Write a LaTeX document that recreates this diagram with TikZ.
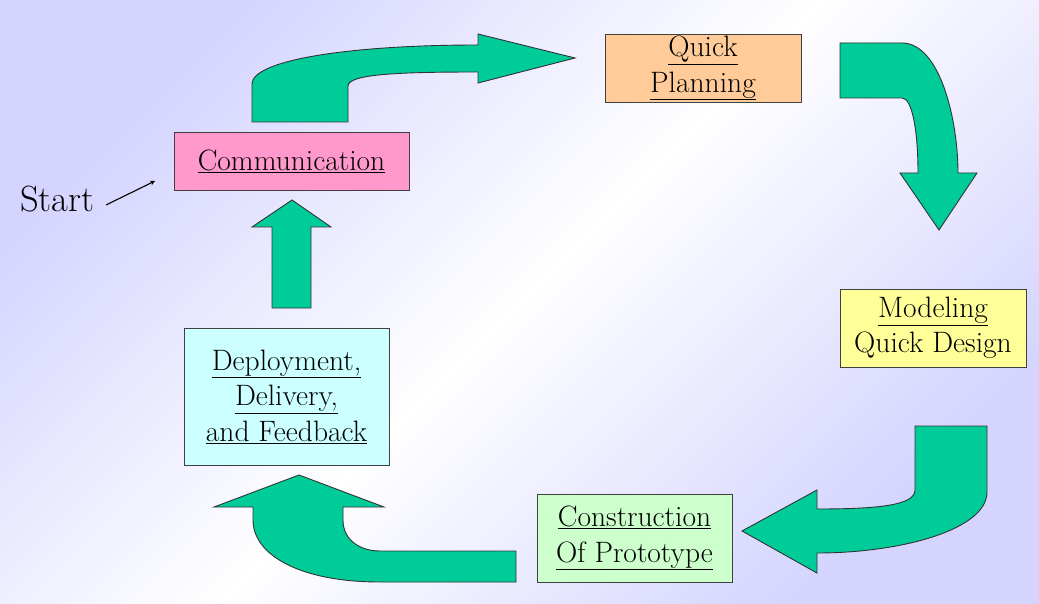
\documentclass[tikz,border=0pt]{standalone}
\usetikzlibrary{shapes,arrows,positioning}
\definecolor{lavanda}{RGB}{212,212,255}
\definecolor{verde}{RGB}{0,204,153}
\definecolor{rosa}{RGB}{255,153,204}
\definecolor{durazno}{RGB}{255,204,153}
\definecolor{amarillo}{RGB}{255,255,153}
\definecolor{menta}{RGB}{204,255,204}
\definecolor{celeste}{RGB}{204,255,255}
\tikzstyle{etapa} = [draw=black!75, line width=0.9pt, rectangle, inner sep=0pt, align=center, font=\fontsize{29.5}{35.5}\selectfont]
\tikzstyle{flecha} = [draw=black!80, fill=verde, line width=0.9pt, line join=miter]

\begin{document}
\begin{tikzpicture}[x=1pt,y=-1pt]
	\useasboundingbox (0,0) rectangle (1039,604);
	\shade[top color=lavanda, bottom color=lavanda, middle color=white, shading angle=45] (0,0) rectangle (1039,604);
	% etapas
	\node[etapa, fill=rosa, minimum width=235pt, minimum height=58pt] (comunicacion) at (291.5,161) {\underline{Communication}};
	\node[etapa, fill=durazno, minimum width=196pt, minimum height=68pt] (planeacion) at (703,68) {\underline{Quick}\\\underline{Planning}};
	\node[etapa, fill=amarillo, minimum width=186pt, minimum height=78pt] (modelado) at (933,328) {\underline{Modeling}\\Quick Design};
	\node[etapa, fill=menta, minimum width=195pt, minimum height=88pt] (construccion) at (634.5,538) {\underline{Construction}\\\underline{Of Prototype}};
	\node[etapa, fill=celeste, minimum width=205pt, minimum height=137pt] (despliegue) at (286.5,396.5) {\underline{Deployment,}\\\underline{Delivery,}\\\underline{and Feedback}};
	% inicio
	\node[inner sep=0pt, anchor=base west, font=\fontsize{36.5}{42}\selectfont] (inicio) at (20,211.7) {Start};
	\coordinate (inicioA) at (106,205);
	\coordinate (inicioB) at (155,181);
	\draw[-stealth, line width=1.1pt] (inicioA) -- (inicioB);
	% flechas
	\draw[flecha] (252,122) -- (252,84) .. controls (252,60) and (350,45) .. (478,45) -- (478,34) -- (575,58) -- (478,83) -- (478,72) .. controls (400,72) and (348,74) .. (348,86) -- (348,122) -- cycle;
	\draw[flecha] (840,43) -- (902,43) .. controls (940,43) and (958,120) .. (958,173) -- (977,173) -- (939,230) -- (900,173) -- (918,173) .. controls (918,130) and (912,98) .. (902,98) -- (840,98) -- cycle;
	\draw[flecha] (915,426) -- (987,426) -- (987,492) .. controls (987,530) and (900,553) .. (817,553) -- (817,573) -- (742,531) -- (817,490) -- (817,509) .. controls (880,509) and (915,505) .. (915,490) -- cycle;
	\draw[flecha] (516,551) -- (516,582) -- (380,582) .. controls (300,582) and (253,555) .. (253,520) -- (253,507) -- (214,507) -- (299,475) -- (384,507) -- (343,507) -- (343,520) .. controls (343,540) and (360,551) .. (380,551) -- cycle;
	\draw[flecha] (272,308) -- (272,227) -- (252,227) -- (292,200) -- (331,227) -- (311,227) -- (311,308) -- cycle;
\end{tikzpicture}
\end{document}
